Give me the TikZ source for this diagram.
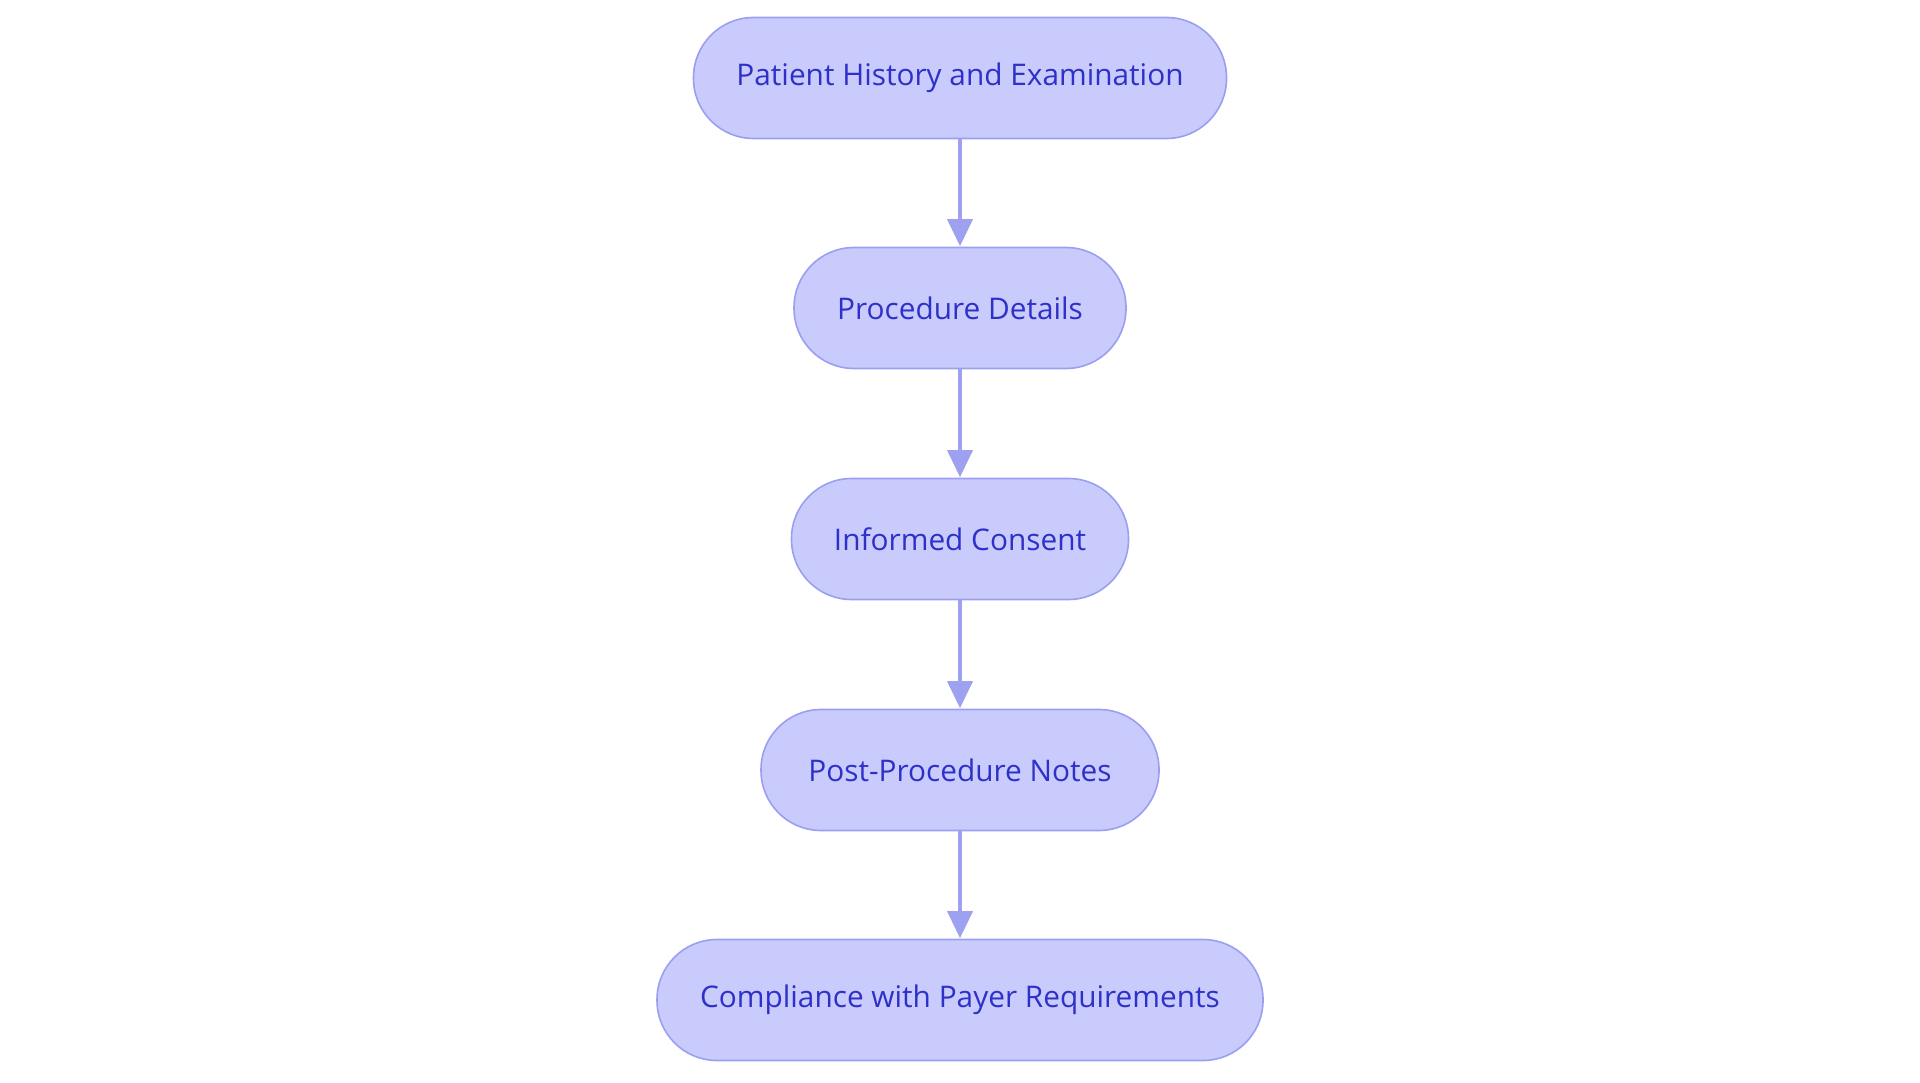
\documentclass[tikz,border=0pt]{standalone}
\usepackage{fontspec}
\setmainfont{Open Sans}
\usetikzlibrary{arrows.meta}
\definecolor{nodefill}{HTML}{C9CBFC}
\definecolor{nodedraw}{HTML}{9A9FF0}
\definecolor{nodetext}{HTML}{2E31C8}
\definecolor{arrowcol}{HTML}{9DA1F0}
\begin{document}
\begin{tikzpicture}[x=1pt,y=-1pt,
  stepbox/.style={draw=nodedraw, fill=nodefill, line width=1.6pt, rounded corners=60pt,
    minimum height=121pt, text=nodetext, font=\fontsize{29.8}{35}\selectfont, inner sep=0pt},
  flow/.style={draw=arrowcol, line width=3.6pt, -{Triangle[width=25pt,length=27pt]}, shorten >=0.5pt}]
\useasboundingbox (0,0) rectangle (1920,1083);
\fill[white] (0,0) rectangle (1920,1083);
\node[stepbox, minimum width=533pt] (n1) at (960,78) {Patient History and Examination};
\node[stepbox, minimum width=332pt] (n2) at (960,308) {Procedure Details};
\node[stepbox, minimum width=337pt] (n3) at (960,539) {Informed Consent};
\node[stepbox, minimum width=398pt] (n4) at (960,770) {Post-Procedure Notes};
\node[stepbox, minimum width=606pt] (n5) at (960,1000) {Compliance with Payer Requirements};
\draw[flow] (n1) -- (n2);
\draw[flow] (n2) -- (n3);
\draw[flow] (n3) -- (n4);
\draw[flow] (n4) -- (n5);
\end{tikzpicture}
\end{document}
